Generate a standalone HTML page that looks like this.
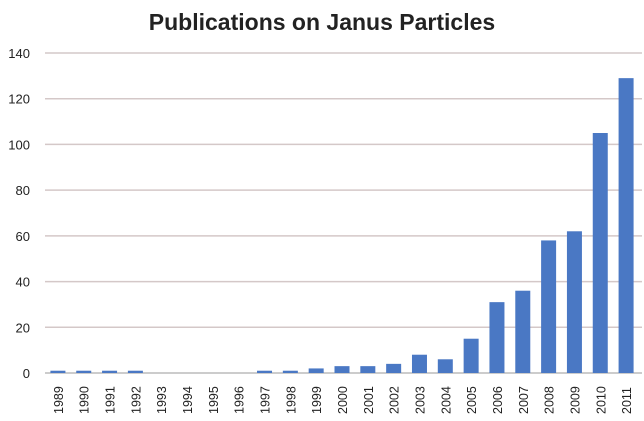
<!DOCTYPE html>
<html><head><meta charset="utf-8"><style>
body{margin:0;background:#fff;}
svg{display:block;font-family:"Liberation Sans",sans-serif;}
</style></head><body>
<svg id="chart" width="644" height="421">
<text x="322" y="30" text-anchor="middle" font-size="23" font-weight="bold" fill="#222">Publications on Janus Particles</text>
<g id="grid"></g><g id="bars"></g><g id="labels"></g>
</svg>
<script>
const categories=["1989","1990","1991","1992","1993","1994","1995","1996","1997","1998","1999","2000","2001","2002","2003","2004","2005","2006","2007","2008","2009","2010","2011"];
const values=[1,1,1,1,0,0,0,0,1,1,2,3,3,4,8,6,15,31,36,58,62,105,129];
const yTicks=[0,20,40,60,80,100,120,140];
const NS="http://www.w3.org/2000/svg";
const x0=45,x1=639,y0=373,yTop=53,maxV=140;
const band=(x1-x0)/categories.length;
const xPos=i=>x0+band*(i+0.5);
const yPos=v=>y0-(v/maxV)*(y0-yTop);
function mk(t,a,p){const e=document.createElementNS(NS,t);for(const k in a)e.setAttribute(k,a[k]);p.appendChild(e);return e;}
const grid=document.getElementById('grid'),bars=document.getElementById('bars'),labels=document.getElementById('labels');
yTicks.forEach(v=>{
  const l=mk('line',{x1:x0,x2:x1+3,y1:yPos(v),y2:yPos(v),stroke:v===0?'#bbb':'#d4c8c8','stroke-width':1.5},grid);
  
  
  const t=mk('text',{x:30,y:yPos(v)+5,'text-anchor':'end','font-size':13,fill:'#222'},labels);
  t.textContent=v;
  
  
});
categories.forEach((c,i)=>{
  const v=values[i];
  if(v>0){
    const r=mk('rect',{x:xPos(i)-7.5,width:15,y:yPos(v),height:y0-yPos(v),fill:'#4a78c4'},bars);
    
    
  }
  const t=mk('text',{transform:`translate(${xPos(i)+5},414) rotate(-90)`,'font-size':12.5,fill:'#222'},labels);
  t.textContent=c;
  
  
});
</script>
</body></html>
